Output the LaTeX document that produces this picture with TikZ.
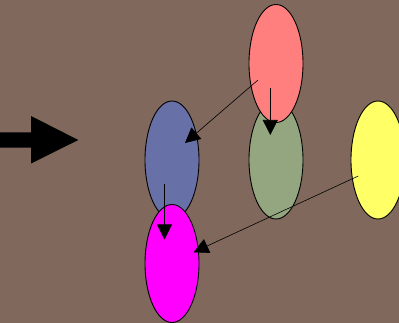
\documentclass[tikz,border=0pt]{standalone}
\usetikzlibrary{shapes.geometric,arrows.meta}
\definecolor{bg}{RGB}{128,104,92}
\definecolor{cred}{RGB}{255,127,127}
\definecolor{cgreen}{RGB}{147,166,127}
\definecolor{cblue}{RGB}{104,112,168}
\definecolor{cyellow}{RGB}{255,255,102}
\definecolor{cmag}{RGB}{255,0,255}
\begin{document}
\begin{tikzpicture}[x=1pt,y=-1pt,
  blob/.style={ellipse,draw=black,line width=0.9pt,minimum width=54pt,minimum height=118pt,inner sep=0pt},
  link/.style={line width=0.6pt,-{Triangle[length=15pt,width=15pt]}}]
\fill[bg] (0,0) rectangle (399,323);
\useasboundingbox (0,0) rectangle (399,323);
\clip (0,0) rectangle (399,323);
% big arrow
\fill[black] (0,132.3) -- (31,132.3) -- (31,116) -- (78.3,140) -- (31,163.5) -- (31,147.7) -- (0,147.7) -- cycle;
% ellipses
\node[blob,fill=cgreen] (green) at (276,160) {};
\node[blob,fill=cred] (red) at (276,63.5) {};
\node[blob,fill=cblue] (blue) at (172,160) {};
\node[blob,fill=cmag] (mag) at (172,263.5) {};
\node[blob,fill=cyellow] (yellow) at (378,160) {};
% anchor points
\coordinate (r1) at (258,80);
\coordinate (b1) at (185,143);
\coordinate (r2) at (270.3,88);
\coordinate (g1) at (270.3,135);
\coordinate (b2) at (164.5,184);
\coordinate (m1) at (164.5,239.5);
\coordinate (y1) at (358.3,176);
\coordinate (m2) at (193.5,252.3);
\draw[link] (r1) -- (b1);
\draw[link] (r2) -- (g1);
\draw[link] (b2) -- (m1);
\draw[link] (y1) -- (m2);
\end{tikzpicture}
\end{document}
